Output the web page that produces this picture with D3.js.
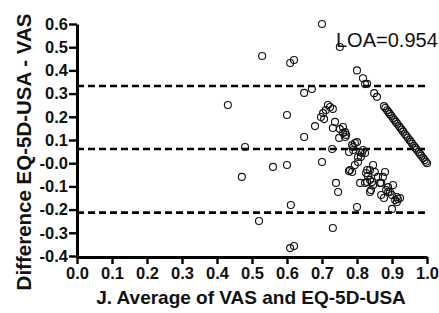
<!DOCTYPE html>
<html>
<head>
<meta charset="utf-8">
<script src="https://cdn.jsdelivr.net/npm/d3@7"></script>
<style>
  body { margin: 0; background: #fff; }
  svg { display: block; font-family: "Liberation Sans", Arial, sans-serif; }
</style>
</head>
<body>
<svg></svg>
<script>
// Bland-Altman points: [average, difference]
const avgVals = [
  0.431, 0.480, 0.471, 0.529, 0.560, 0.520, 0.600, 0.600, 0.609, 0.620,
  0.611, 0.609, 0.620, 0.649, 0.649, 0.671, 0.680, 0.700, 0.700, 0.731,
  0.751, 0.800, 0.900, 0.729, 0.740, 0.746,
  0.697, 0.703, 0.711, 0.717, 0.731, 0.723, 0.706,
  0.737, 0.751, 0.760, 0.766, 0.769, 0.749, 0.731, 0.760, 0.766,
  0.777, 0.786, 0.789, 0.800, 0.794, 0.789, 0.809, 0.803,
  0.780, 0.786, 0.777, 0.794, 0.803, 0.811, 0.814, 0.817, 0.823,
  0.809, 0.826, 0.829, 0.831, 0.837, 0.843, 0.829, 0.840, 0.846, 0.851,
  0.860, 0.869, 0.874, 0.880, 0.869, 0.877, 0.883, 0.889, 0.894, 0.900,
  0.903, 0.909, 0.914, 0.917, 0.923, 0.914, 0.823, 0.837, 0.846, 0.866,
  0.889, 0.837,
  0.800, 0.817, 0.823, 0.829, 0.849, 0.857,
  0.877, 0.881, 0.886, 0.890, 0.894, 0.898, 0.903, 0.907, 0.911, 0.915,
  0.920, 0.924, 0.928, 0.932, 0.937, 0.941, 0.945, 0.950, 0.954, 0.958,
  0.963, 0.967, 0.971, 0.976, 0.980, 0.984, 0.989, 0.993, 0.997, 1.000
];
const diffVals = [
  0.251, 0.070, -0.059, 0.462, -0.016, -0.249, 0.208, -0.008, 0.432, 0.445,
  -0.180, -0.366, -0.357, 0.113, 0.303, 0.320, 0.160, 0.600, 0.005, -0.279,
  0.501, -0.189, -0.197, 0.061, -0.085, -0.124,
  0.199, 0.216, 0.229, 0.251, 0.234, 0.242, 0.190,
  0.178, 0.147, 0.156, 0.134, 0.122, 0.109, 0.152, 0.130, 0.113,
  0.048, 0.078, 0.070, 0.091, 0.087, 0.057, 0.048, 0.027,
  -0.029, -0.038, -0.034, -0.008, 0.005, 0.027, 0.044, 0.057, 0.044,
  -0.085, -0.042, -0.029, -0.055, -0.072, -0.081, -0.081, -0.116, -0.008, -0.038,
  -0.059, -0.085, -0.059, -0.038, -0.137, -0.150, -0.116, -0.103, -0.124, -0.137,
  -0.094, -0.159, -0.146, -0.154, -0.150, -0.167, -0.085, -0.124, -0.094, -0.085,
  -0.124, -0.029,
  0.400, 0.366, 0.341, 0.342, 0.302, 0.286,
  0.246, 0.238, 0.228, 0.220, 0.212, 0.204, 0.194, 0.186, 0.178, 0.170,
  0.160, 0.152, 0.144, 0.136, 0.126, 0.118, 0.110, 0.100, 0.092, 0.084,
  0.074, 0.066, 0.058, 0.048, 0.040, 0.032, 0.022, 0.014, 0.006, 0.000
];
const refLines = [0.333, 0.061, -0.213];
const xTicks = [0, 0.1, 0.2, 0.3, 0.4, 0.5, 0.6, 0.7, 0.8, 0.9, 1.0];
const xTickLabels = ["0.0", "0.1", "0.2", "0.3", "0.4", "0.5", "0.6", "0.7", "0.8", "0.9", "1.0"];
const yTicks = [0.6, 0.5, 0.4, 0.3, 0.2, 0.1, 0, -0.1, -0.2, -0.3, -0.4];
const yTickLabels = ["0.6", "0.5", "0.4", "0.3", "0.2", "0.1", "-0.0", "-0.1", "-0.2", "-0.3", "-0.4"];

const svg = d3.select("svg")
              .attr("width", 439)
              .attr("height", 313);

const x = d3.scaleLinear().domain([0, 1]).range([77, 427]);
const y = d3.scaleLinear().domain([-0.4, 0.6]).range([256, 24]);

// dashed mean and limits
svg.selectAll(".ref")
   .data(refLines)
   .enter()
   .append("line")
   .attr("x1", x(0))
   .attr("x2", x(1) + 2)
   .attr("y1", d => y(d))
   .attr("y2", d => y(d))
   .attr("stroke", "#000")
   .attr("stroke-width", 2.6)
   .attr("stroke-dasharray", "7,4");

// points
svg.selectAll("circle")
   .data(avgVals.map((a, i) => [a, diffVals[i]]))
   .enter()
   .append("circle")
   .attr("cx", d => x(d[0]))
   .attr("cy", d => y(d[1]))
   .attr("r", 3.5)
   .attr("fill", "none")
   .attr("stroke", "#111")
   .attr("stroke-width", 1.1);

// axes
const xAxis = d3.axisBottom(x)
  .tickValues(xTicks)
  .tickFormat((d, i) => xTickLabels[i])
  .tickSize(7)
  .tickSizeOuter(0)
  .tickPadding(3);
const yAxis = d3.axisLeft(y)
  .tickValues(yTicks)
  .tickFormat((d, i) => yTickLabels[i])
  .tickSize(8)
  .tickSizeOuter(0)
  .tickPadding(1);

const gx = svg.append("g").attr("transform", "translate(0,257)").call(xAxis);
const gy = svg.append("g").attr("transform", "translate(77,0)").call(yAxis);

[gx, gy].forEach(g => {
  g.select(".domain").attr("stroke-width", 3).attr("stroke", "#000");
  g.selectAll(".tick line").attr("stroke-width", 2.4).attr("stroke", "#000");
  g.selectAll(".tick text")
   .attr("fill", "#111")
   .style("font-size", "16.5px")
   .style("font-weight", "bold")
   .style("font-family", "'Liberation Sans', Arial, sans-serif");
});

// titles
svg.append("text")
   .attr("x", 251)
   .attr("y", 304)
   .attr("text-anchor", "middle")
   .style("font-size", "19px")
   .style("font-weight", "bold")
   .attr("fill", "#111")
   .text("J. Average of VAS and EQ-5D-USA");

svg.append("text")
   .attr("transform", "translate(31,152) rotate(-90)")
   .attr("text-anchor", "middle")
   .style("font-size", "20.5px")
   .style("font-weight", "bold")
   .attr("fill", "#111")
   .text("Difference EQ-5D-USA - VAS");

svg.append("text")
   .attr("x", 336)
   .attr("y", 47)
   .style("font-size", "20px")
   .attr("fill", "#111")
   .text("LOA=0.954");
</script>
</body>
</html>
